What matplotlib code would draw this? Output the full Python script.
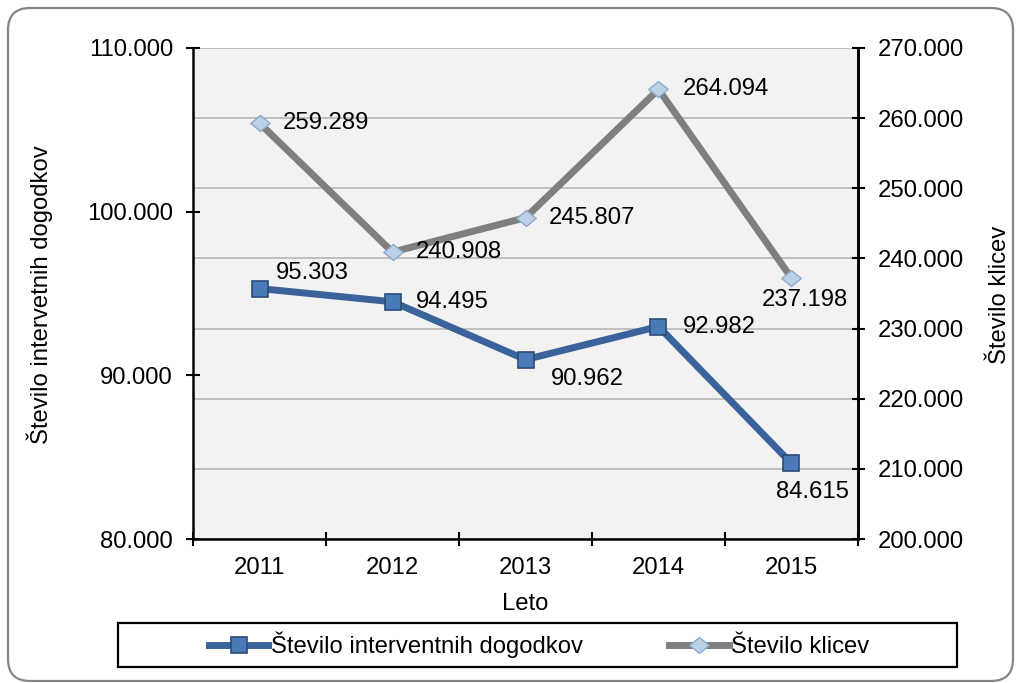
import matplotlib
matplotlib.use("Agg")
import matplotlib.pyplot as plt
from matplotlib.ticker import FuncFormatter, FixedLocator
from matplotlib.patches import FancyBboxPatch, Rectangle
from matplotlib.transforms import IdentityTransform
from matplotlib.path import Path
from matplotlib.lines import Line2D

plt.rcParams['font.family'] = ['Liberation Sans', 'DejaVu Sans']

years = ['2011', '2012', '2013', '2014', '2015']
dogodki = [95303, 94495, 90962, 92982, 84615]
klici = [259289, 240908, 245807, 264094, 237198]
left_ticks = [80000, 90000, 100000, 110000]
right_ticks = [200000, 210000, 220000, 230000, 240000, 250000, 260000, 270000]

name_left = 'Število interventnih dogodkov'
name_right = 'Število klicev'
ylabel_left = 'Število intervetnih dogodkov'
ylabel_right = 'Število klicev'
xlabel = 'Leto'

# label offsets in pixels (dx right, dy down)
off_left = [(16, -16), (23, 0), (25, 19), (24, 0), (-15, 29)]
off_right = [(23, 0), (23, 0), (23, 0), (24, 0), (-30, 22)]

FS = 17.2
PX = 72 / 100.0
LW = 5.0

def fmt(v, pos=None):
    return f"{v:,.0f}".replace(',', '.')

fig = plt.figure(figsize=(10.16, 6.83), dpi=100)
fig.patch.set_facecolor('white')

border = FancyBboxPatch((8, 2), 1005, 673, boxstyle="round,pad=0,rounding_size=22",
                        transform=IdentityTransform(), facecolor='none',
                        edgecolor='#868686', linewidth=1.6, figure=fig)
fig.patches.append(border)

ax = fig.add_axes([193/1016, 1-539/683, (858-193)/1016, (539-48)/683])
ax2 = ax.twinx()
ax2.set_zorder(0)
ax.set_zorder(1)
ax.patch.set_visible(False)
ax2.patch.set_facecolor('#f2f2f2')
ax2.patch.set_visible(True)

x = list(range(len(years)))

diamond = Path([(-1, 0), (0, 0.82), (1, 0), (0, -0.82), (-1, 0)],
               [Path.MOVETO, Path.LINETO, Path.LINETO, Path.LINETO, Path.CLOSEPOLY])

ax2.plot(x, klici, color='#7f7f7f', lw=LW, marker=diamond, markersize=14,
         markerfacecolor='#bcd0e8', markeredgecolor='#8ea9c8', markeredgewidth=1.0,
         solid_capstyle='butt', zorder=3)
ax.plot(x, dogodki, color='#3a639b', lw=LW, marker='s', markersize=11.5,
        markerfacecolor='#4a7bb8', markeredgecolor='#2b4c78', markeredgewidth=1.2,
        solid_capstyle='butt', zorder=3)

for i, v in enumerate(dogodki):
    dx, dy = off_left[i]
    ax.annotate(fmt(v), (x[i], v), xytext=(dx*PX, -dy*PX), textcoords='offset points',
                ha='left', va='center', fontsize=FS, color='black', zorder=5)
for i, v in enumerate(klici):
    dx, dy = off_right[i]
    ax2.annotate(fmt(v), (x[i], v), xytext=(dx*PX, -dy*PX), textcoords='offset points',
                 ha='left', va='center', fontsize=FS, color='black', zorder=5)

ax.set_xlim(-0.5, len(years) - 0.5)
ax.set_ylim(80000, 110000)
ax2.set_ylim(200000, 270000)

ax.yaxis.set_major_locator(FixedLocator(left_ticks))
ax.yaxis.set_major_formatter(FuncFormatter(fmt))
ax2.yaxis.set_major_locator(FixedLocator(right_ticks))
ax2.yaxis.set_major_formatter(FuncFormatter(fmt))

ax.set_xticks([i - 0.5 for i in range(len(years) + 1)])
ax.set_xticklabels([])
ax.set_xticks(x, minor=True)
ax.set_xticklabels(years, minor=True)
ax.tick_params(axis='x', which='minor', length=0, pad=18 * PX, labelsize=FS)
ax.tick_params(axis='x', which='major', direction='inout', length=14 * PX, width=1.5)
ax.tick_params(axis='y', which='major', direction='inout', length=14 * PX, width=1.5,
               pad=13 * PX, labelsize=FS)
ax2.tick_params(axis='y', which='major', direction='inout', length=13 * PX, width=1.5,
                pad=13 * PX, labelsize=FS)

ax2.yaxis.grid(True, color='#bfbfbf', lw=1.4)
ax2.set_axisbelow(True)

for a in (ax, ax2):
    for s in a.spines.values():
        s.set_visible(False)
for s in ('left', 'bottom', 'right'):
    ax.spines[s].set_visible(True)
    ax.spines[s].set_linewidth(1.8)
    ax.spines[s].set_color('black')
ax2.spines['right'].set_visible(True)
ax2.spines['right'].set_linewidth(1.8)

fig.text(40/1016, 1-295/683, ylabel_left, rotation=90, ha='center', va='center', fontsize=FS)
fig.text(1000/1016, 1-295/683, ylabel_right, rotation=90, ha='center', va='center', fontsize=FS)
fig.text(525/1016, 1-604/683, xlabel, ha='center', va='center', fontsize=FS)

# legend
fig.patches.append(Rectangle((118/1016, 1-667/683), 839/1016, 44/683, transform=fig.transFigure,
                             facecolor='white', edgecolor='black', linewidth=1.6, figure=fig))
h1 = Line2D([], [], color='#3a639b', lw=LW, marker='s', markersize=11.5,
            markerfacecolor='#4a7bb8', markeredgecolor='#2b4c78', markeredgewidth=1.2)
h2 = Line2D([], [], color='#7f7f7f', lw=LW, marker=diamond, markersize=14,
            markerfacecolor='#bcd0e8', markeredgecolor='#8ea9c8', markeredgewidth=1.0)
leg = fig.legend([h1, h2], [name_left, name_right], loc='center',
                 bbox_to_anchor=(539/1016, 1-645/683), ncol=2, frameon=False,
                 handlelength=2.5, handletextpad=0.1, columnspacing=3.6, fontsize=FS)

fig.savefig('out.png', dpi=100)
